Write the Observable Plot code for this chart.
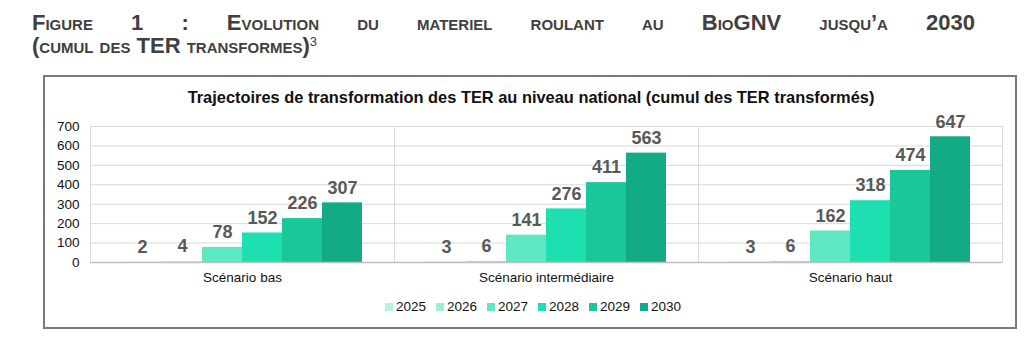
<!DOCTYPE html>
<html>
<head>
<meta charset="utf-8">
<script src="https://cdn.jsdelivr.net/npm/d3@7"></script>
<script src="https://cdn.jsdelivr.net/npm/@observablehq/plot@0.6"></script>
<style>
  body { margin: 0; background: #fff; width: 1032px; height: 348px; position: relative; overflow: hidden; font-family: "Liberation Sans", Arial, sans-serif; }
  #title { position: absolute; left: 32px; top: 11px; width: 943px; font-family: "Liberation Sans", Arial, sans-serif; font-weight: bold; font-size: 22px; color: #404040; font-variant: small-caps; line-height: 23px; }
  #title .l1 { text-align: justify; text-align-last: justify; }
  #title sup { font-size: 13px; font-variant: normal; font-weight: normal; vertical-align: 7px; line-height: 0; }
  #box { position: absolute; left: 43px; top: 75px; width: 974px; height: 254px; border: 2px solid #7a7a7a; box-sizing: border-box; }
  #ctitle { position: absolute; left: 0; width: 1062px; top: 88px; text-align: center; font-weight: bold; font-size: 16.4px; color: #111; }
  #chart { position: absolute; left: 45px; top: 105px; }
  #legend { position: absolute; left: 385px; top: 299px; display: flex; font-size: 13.5px; color: #111; }
  #legend .item { display: flex; align-items: center; width: 51px; }
  #legend .sw { width: 8px; height: 8px; margin-right: 3px; }
</style>
</head>
<body>
<div id="title"><div class="l1">Figure 1 : Evolution du materiel roulant au BioGNV jusqu’a 2030</div><div>(cumul des TER transformes)<sup>3</sup></div></div>
<div id="box"></div>
<div id="ctitle">Trajectoires de transformation des TER au niveau national (cumul des TER transformés)</div>
<div id="chart"></div>
<div id="legend"></div>
<script>
const scenarios = ["Scénario bas", "Scénario intermédiaire", "Scénario haut"];
const years = ["2025", "2026", "2027", "2028", "2029", "2030"];
const valuesBas = [2, 4, 78, 152, 226, 307];
const valuesInter = [3, 6, 141, 276, 411, 563];
const valuesHaut = [3, 6, 162, 318, 474, 647];
const colors = ["#b4f2de", "#9cefd3", "#5de8c1", "#1ddfb0", "#19c79b", "#13ab85"];
const yTicks = [0, 100, 200, 300, 400, 500, 600, 700];

const series = [valuesBas, valuesInter, valuesHaut];
const data = [];
scenarios.forEach((s, i) => years.forEach((y, j) => data.push({scenario: s, year: y, value: series[i][j]})));

const chart = Plot.plot({
  width: 968,
  height: 183,
  marginLeft: 44,
  marginRight: 11,
  marginTop: 21,
  marginBottom: 26,
  style: {fontFamily: "'Liberation Sans', Arial, sans-serif", background: "transparent"},
  fx: {domain: scenarios, padding: 0, label: null, axis: null},
  x: {domain: years, paddingInner: 0, paddingOuter: 0.74, axis: null},
  y: {domain: [0, 700], label: null, axis: null},
  color: {domain: years, range: colors},
  marks: [
    Plot.gridY(yTicks.slice(1), {stroke: "#d9d9d9", strokeOpacity: 1}),
    Plot.frame({stroke: "#d9d9d9"}),
    Plot.barY(data, {fx: "scenario", x: "year", y: "value", fill: "year"}),
    Plot.ruleY([0], {stroke: "#bfbfbf", strokeWidth: 1.5}),
    Plot.text(data, {fx: "scenario", x: "year", y: "value", text: d => String(d.value), dy: -15, fill: "#595959", fontWeight: "bold", fontSize: 18}),
    Plot.axisY(yTicks, {tickSize: 0, tickPadding: 11, fontSize: 13.5, fill: "#111", label: null}),
    Plot.axisFx({anchor: "bottom", tickSize: 0, tickPadding: 10, fontSize: 13.5, fill: "#111", label: null})
  ]
});
document.getElementById("chart").appendChild(chart);

const legend = document.getElementById("legend");
years.forEach((y, i) => {
  const item = document.createElement("div");
  item.className = "item";
  const sw = document.createElement("div");
  sw.className = "sw";
  sw.style.background = colors[i];
  const t = document.createElement("span");
  t.textContent = y;
  item.appendChild(sw);
  item.appendChild(t);
  legend.appendChild(item);
});
</script>
</body>
</html>
